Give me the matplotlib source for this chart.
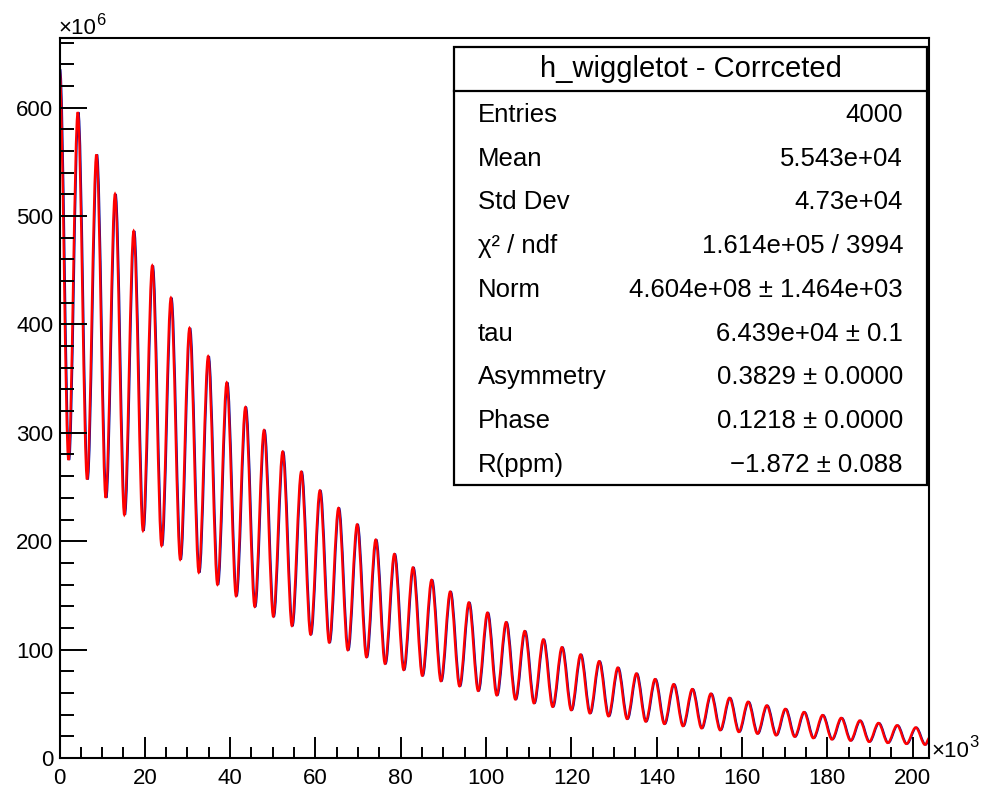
import matplotlib
matplotlib.use("Agg")
import matplotlib.pyplot as plt
from matplotlib.path import Path
from matplotlib.patches import PathPatch, Rectangle
from matplotlib.lines import Line2D
from matplotlib.ticker import MultipleLocator
import matplotlib.transforms as mtransforms

plt.rcParams['font.family'] = ['Liberation Sans', 'DejaVu Sans']

# --- data (x in 1e3, y in 1e6) ---
start_pt = (0.0, 635.4)
end_pt = (203.9, 18.5)

peak_x = [4.28, 8.65, 13.01, 17.38, 21.74, 26.11, 30.47, 34.84, 39.20, 43.57,
          47.93, 52.30, 56.66, 61.03, 65.39, 69.76, 74.12, 78.49, 82.85, 87.22,
          91.58, 95.95, 100.31, 104.68, 109.04, 113.41, 117.77, 122.14, 126.50, 130.87,
          135.23, 139.60, 143.96, 148.33, 152.69, 157.06, 161.42, 165.79, 170.15, 174.52,
          178.88, 183.25, 187.61, 191.98, 196.34, 200.71]
peak_y = [595.7, 556.7, 520.2, 486.1, 454.2, 424.5, 396.6, 370.6, 346.4, 323.6,
          302.4, 282.6, 264.1, 246.8, 230.6, 215.5, 201.4, 188.2, 175.8, 164.3,
          153.5, 143.5, 134.1, 125.3, 117.1, 109.4, 102.2, 95.5, 89.3, 83.4,
          78.0, 72.8, 68.1, 63.6, 59.4, 55.5, 51.9, 48.5, 45.3, 42.4,
          39.6, 37.0, 34.6, 32.3, 30.2, 28.2]
trough_x = [2.10, 6.46, 10.83, 15.19, 19.56, 23.92, 28.29, 32.65, 37.02, 41.38,
            45.75, 50.11, 54.48, 58.84, 63.21, 67.57, 71.94, 76.30, 80.67, 85.03,
            89.40, 93.76, 98.13, 102.49, 106.86, 111.22, 115.59, 119.95, 124.32, 128.68,
            133.05, 137.41, 141.78, 146.14, 150.51, 154.87, 159.24, 163.60, 167.97, 172.33,
            176.70, 181.06, 185.43, 189.79, 194.16, 198.52, 202.89]
trough_y = [275.0, 257.0, 240.1, 224.4, 209.7, 195.9, 183.1, 171.1, 159.9, 149.4,
            139.6, 130.5, 121.9, 113.9, 106.5, 99.5, 93.0, 86.9, 81.2, 75.9,
            70.9, 66.2, 61.9, 57.8, 54.0, 50.5, 47.2, 44.1, 41.2, 38.5,
            36.0, 33.6, 31.4, 29.4, 27.4, 25.6, 24.0, 22.4, 20.9, 19.6,
            18.3, 17.1, 16.0, 14.9, 13.9, 13.0, 12.2]

stat_title = "h_wiggletot - Corrceted"
stat_labels = ["Entries", "Mean", "Std Dev", "χ² / ndf", "Norm", "tau",
               "Asymmetry", "Phase", "R(ppm)"]
stat_values = ["4000", "5.543e+04", "4.73e+04", "1.614e+05 / 3994",
               "4.604e+08 ± 1.464e+03", "6.439e+04 ± 0.1", "0.3829 ± 0.0000",
               "0.1218 ± 0.0000", "−1.872 ± 0.088"]

# --- figure ---
W, H = 981, 790
fig = plt.figure(figsize=(W / 100, H / 100), dpi=100)
ax = fig.add_axes([59.5 / W, 1 - 758 / H, (929.3 - 59.5) / W, (758 - 38) / H])

# extrema in order: start, trough0, peak1, trough1, ..., trough46, end
pts = [start_pt, (trough_x[0], trough_y[0])]
for i in range(len(peak_x)):
    pts.append((peak_x[i], peak_y[i]))
    pts.append((trough_x[i + 1], trough_y[i + 1]))
pts.append(end_pt)

verts = [pts[0]]
codes = [Path.MOVETO]
for (x0, y0), (x1, y1) in zip(pts[:-1], pts[1:]):
    h = x1 - x0
    verts += [(x0 + h / 3, y0), (x1 - h / 3, y1), (x1, y1)]
    codes += [Path.CURVE4] * 3
path = Path(verts, codes)

# histogram (blue) peeks out from under the fit (red)
shift = ax.transData + mtransforms.ScaledTranslation(0.9 / 100, 0, fig.dpi_scale_trans)
ax.add_patch(PathPatch(path, fill=False, ec='#0a0a9a', lw=1.2, transform=shift))
ax.add_patch(PathPatch(path, fill=False, ec='#ff0000', lw=1.7))

ax.set_xlim(0, 203.9)
ax.set_ylim(0, 664.2)
ax.xaxis.set_major_locator(MultipleLocator(20))
ax.xaxis.set_minor_locator(MultipleLocator(5))
ax.yaxis.set_major_locator(MultipleLocator(100))
ax.yaxis.set_minor_locator(MultipleLocator(20))
ax.tick_params(which='both', direction='in', top=False, right=False, width=1.4)
ax.tick_params(axis='y', which='major', length=19.5, labelsize=16, pad=4.5)
ax.tick_params(axis='y', which='minor', length=10)
ax.tick_params(axis='x', which='major', length=15, labelsize=16, pad=7.5)
ax.tick_params(axis='x', which='minor', length=8)
for s in ax.spines.values():
    s.set_linewidth(1.5)


def fx(x):
    return x / W


def fy(y):
    return 1 - y / H


# exponent labels
fig.text(fx(58), fy(34), "×10", fontsize=16, va='baseline')
fig.text(fx(96.5), fy(25), "6", fontsize=12, va='baseline')
fig.text(fx(931), fy(757), "×10", fontsize=16, va='baseline')
fig.text(fx(969), fy(747), "3", fontsize=12, va='baseline')

# stats box
box_l, box_r, box_t, box_b = 454, 927, 47, 485
fig.add_artist(Rectangle((fx(box_l), fy(box_b)), (box_r - box_l) / W, (box_b - box_t) / H,
                         transform=fig.transFigure, fc='white', ec='black', lw=1.6, zorder=5))
row_h = (box_b - box_t) / 10
fig.add_artist(Line2D([fx(box_l), fx(box_r)], [fy(box_t + row_h)] * 2,
                      transform=fig.transFigure, color='black', lw=1.6, zorder=6))
fig.text(fx((box_l + box_r) / 2), fy(box_t + row_h / 2 + 8.5), stat_title,
         ha='center', va='baseline', fontsize=21, zorder=7)
for i, (lab, val) in enumerate(zip(stat_labels, stat_values)):
    yb = box_t + row_h * (i + 1.5) + 9
    fig.text(fx(478), fy(yb), lab, ha='left', va='baseline', fontsize=18.5, zorder=7)
    fig.text(fx(903), fy(yb), val, ha='right', va='baseline', fontsize=18.5, zorder=7)

fig.savefig("out.png", dpi=100)
